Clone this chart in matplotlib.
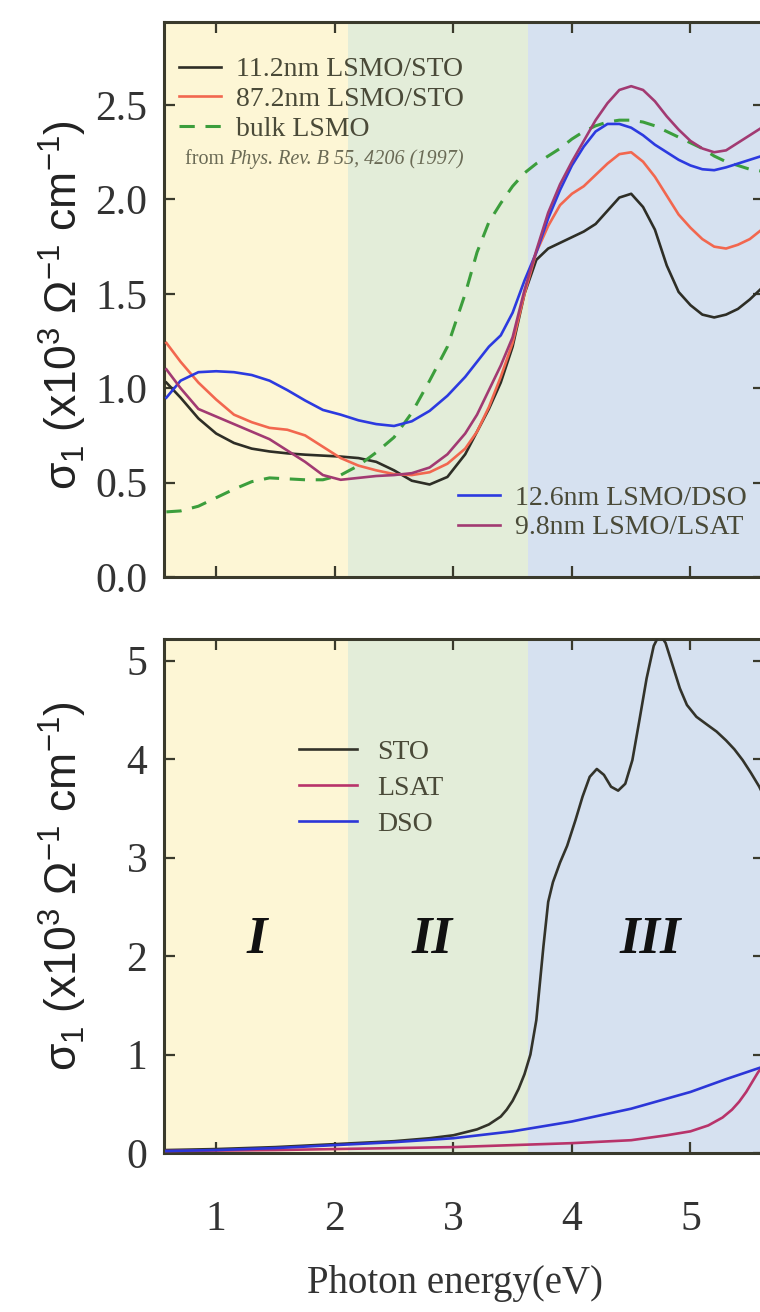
import matplotlib
matplotlib.use('Agg')
import matplotlib.pyplot as plt
from matplotlib.ticker import FixedLocator, FormatStrFormatter, NullFormatter

plt.rcParams['font.family'] = ['Liberation Serif', 'DejaVu Serif']
plt.rcParams['mathtext.fontset'] = 'custom'
plt.rcParams['mathtext.rm'] = 'Liberation Sans'
plt.rcParams['mathtext.it'] = 'Liberation Sans:italic'
plt.rcParams['mathtext.bf'] = 'Liberation Sans:bold'

# ---------------- data: top panel ----------------
x_top = [0.58, 0.7, 0.85, 1.0, 1.15, 1.3, 1.45, 1.6, 1.75, 1.9, 2.05, 2.2, 2.35, 2.5,
         2.65, 2.8, 2.95, 3.1, 3.2, 3.3, 3.4, 3.5, 3.6, 3.7, 3.8, 3.9, 4.0, 4.1, 4.2,
         4.3, 4.4, 4.5, 4.6, 4.7, 4.8, 4.9, 5.0, 5.1, 5.2, 5.3, 5.4, 5.5, 5.6]

sto_11nm = [1.03, 0.95, 0.84, 0.76, 0.71, 0.68, 0.665, 0.655, 0.648, 0.643, 0.638, 0.63,
            0.61, 0.565, 0.51, 0.49, 0.53, 0.65, 0.77, 0.89, 1.03, 1.22, 1.5, 1.68, 1.74,
            1.77, 1.80, 1.83, 1.87, 1.94, 2.01, 2.03, 1.96, 1.84, 1.65, 1.51, 1.44, 1.39,
            1.375, 1.39, 1.42, 1.47, 1.53]

sto_87nm = [1.24, 1.14, 1.03, 0.94, 0.86, 0.82, 0.79, 0.78, 0.75, 0.69, 0.63, 0.59, 0.565,
            0.545, 0.54, 0.555, 0.6, 0.68, 0.77, 0.9, 1.06, 1.24, 1.5, 1.72, 1.86, 1.97,
            2.03, 2.07, 2.13, 2.19, 2.24, 2.25, 2.2, 2.12, 2.02, 1.92, 1.85, 1.79, 1.75,
            1.74, 1.76, 1.79, 1.84]

bulk = [0.345, 0.35, 0.375, 0.42, 0.465, 0.505, 0.525, 0.52, 0.515, 0.515, 0.54, 0.59,
        0.66, 0.74, 0.87, 1.04, 1.22, 1.5, 1.72, 1.88, 1.98, 2.07, 2.14, 2.19, 2.23, 2.27,
        2.32, 2.36, 2.39, 2.41, 2.42, 2.42, 2.41, 2.39, 2.36, 2.33, 2.30, 2.27, 2.23, 2.20,
        2.18, 2.16, 2.15]

dso_12nm = [0.95, 1.04, 1.085, 1.09, 1.085, 1.07, 1.04, 0.99, 0.935, 0.885, 0.86, 0.83,
            0.81, 0.80, 0.825, 0.88, 0.96, 1.06, 1.14, 1.22, 1.28, 1.4, 1.57, 1.72, 1.9,
            2.05, 2.18, 2.28, 2.36, 2.40, 2.40, 2.38, 2.34, 2.29, 2.25, 2.21, 2.18, 2.16,
            2.155, 2.17, 2.19, 2.21, 2.23]

lsat_9nm = [1.10, 1.0, 0.89, 0.85, 0.81, 0.77, 0.73, 0.67, 0.61, 0.54, 0.515, 0.525, 0.535,
            0.54, 0.55, 0.58, 0.65, 0.76, 0.86, 0.99, 1.12, 1.27, 1.52, 1.73, 1.93, 2.08,
            2.2, 2.31, 2.42, 2.51, 2.58, 2.6, 2.58, 2.52, 2.44, 2.37, 2.31, 2.27, 2.25, 2.26,
            2.3, 2.34, 2.38]

# ---------------- data: bottom panel (substrates) ----------------
x_sto = [0.58, 1.0, 1.5, 2.0, 2.5, 2.8, 3.0, 3.2, 3.3, 3.4, 3.45, 3.5, 3.55, 3.6, 3.65, 3.7,
         3.76, 3.8, 3.84, 3.9, 3.96, 4.03, 4.09, 4.15, 4.21, 4.27, 4.33, 4.39, 4.45, 4.51,
         4.57, 4.63, 4.69, 4.74, 4.79, 4.85, 4.91, 4.97, 5.05, 5.14, 5.22, 5.30, 5.37, 5.44,
         5.51, 5.58, 5.62]
y_sto = [0.03, 0.04, 0.06, 0.09, 0.12, 0.15, 0.18, 0.24, 0.29, 0.37, 0.44, 0.53, 0.65, 0.8,
         1.0, 1.35, 2.1, 2.55, 2.75, 2.95, 3.12, 3.38, 3.62, 3.82, 3.9, 3.84, 3.72, 3.68,
         3.75, 3.99, 4.4, 4.82, 5.15, 5.27, 5.18, 4.95, 4.72, 4.55, 4.43, 4.35, 4.28, 4.19,
         4.1, 3.99, 3.86, 3.72, 3.62]

x_dso = [0.58, 1.0, 1.5, 2.0, 2.5, 3.0, 3.5, 4.0, 4.5, 5.0, 5.3, 5.62]
y_dso = [0.02, 0.03, 0.05, 0.08, 0.11, 0.15, 0.22, 0.32, 0.45, 0.62, 0.75, 0.88]

x_lsat = [0.58, 1.5, 2.5, 3.0, 3.5, 4.0, 4.5, 4.8, 5.0, 5.15, 5.27, 5.35, 5.41, 5.47,
          5.52, 5.57, 5.62]
y_lsat = [0.02, 0.03, 0.05, 0.06, 0.08, 0.10, 0.13, 0.18, 0.22, 0.28, 0.36, 0.44, 0.52,
          0.62, 0.72, 0.82, 0.90]

# regions
region_edges = [0.0, 2.11, 3.63, 7.0]
region_colors = ['#fdf6d5', '#e3edd9', '#d6e1f0']
region_labels = ['I', 'II', 'III']
region_label_x = [1.345, 2.82, 4.66]

top_yticks = [0.0, 0.5, 1.0, 1.5, 2.0, 2.5]
bot_yticks = [0, 1, 2, 3, 4, 5]
xticks = [1, 2, 3, 4, 5]

# ---------------- figure ----------------
fig = plt.figure(figsize=(7.6, 13.12), dpi=100)
W, H = 760.0, 1312.0
ax1 = fig.add_axes([164 / W, 1 - 577 / H, 600 / W, 555 / H])
ax2 = fig.add_axes([164 / W, 1 - 1153 / H, 600 / W, 514 / H])

spine_col = '#3a3a2c'
for ax in (ax1, ax2):
    for i, c in enumerate(region_colors):
        ax.axvspan(region_edges[i], region_edges[i + 1], color=c, lw=0, zorder=0)
    ax.set_xlim(0.56, 5.62)
    for s in ax.spines.values():
        s.set_linewidth(2.2)
        s.set_color(spine_col)
    ax.xaxis.set_major_locator(FixedLocator(xticks))
    ax.tick_params(which='major', direction='in', length=8, width=1.6, color=spine_col,
                   top=True, right=True, labelsize=30, pad=12, labelcolor='#333333')

# top panel
c_black = '#2e2e26'
c_red = '#f2674f'
c_green = '#3c9e3c'
c_blue = '#2c3ae0'
c_purple = '#a23a72'

l1, = ax1.plot(x_top, sto_11nm, color=c_black, lw=1.9, label='11.2nm LSMO/STO', zorder=3)
l2, = ax1.plot(x_top, sto_87nm, color=c_red, lw=1.9, label='87.2nm LSMO/STO', zorder=3)
l3, = ax1.plot(x_top, bulk, color=c_green, lw=2.2, ls=(0, (5, 3.5)), label='bulk LSMO', zorder=3)
l4, = ax1.plot(x_top, dso_12nm, color=c_blue, lw=1.9, label='12.6nm LSMO/DSO', zorder=3)
l5, = ax1.plot(x_top, lsat_9nm, color=c_purple, lw=1.9, label='9.8nm LSMO/LSAT', zorder=3)

ax1.set_ylim(0, 2.94)
ax1.yaxis.set_major_locator(FixedLocator(top_yticks))
ax1.yaxis.set_major_formatter(FormatStrFormatter('%.1f'))
ax1.xaxis.set_major_formatter(NullFormatter())

leg_col = '#4a4a38'
leg1 = ax1.legend(handles=[l1, l2, l3], loc='upper left', bbox_to_anchor=(0.025, 0.937),
                  frameon=False, fontsize=20, handlelength=1.5, handletextpad=0.55,
                  labelspacing=0.15, borderpad=0, borderaxespad=0)
for t in leg1.get_texts():
    t.set_color(leg_col)
ax1.add_artist(leg1)
t_from = ax1.text(0.035, 0.753, 'from ', transform=ax1.transAxes, fontsize=14.5,
                  color='#6a6a55', va='center', ha='left')
ax1.annotate('Phys. Rev. B 55, 4206 (1997)', xy=(1, 0.5), xycoords=t_from,
             va='center', ha='left', fontsize=14.5, color='#6a6a55', style='italic')

leg2 = ax1.legend(handles=[l4, l5], loc='upper left', bbox_to_anchor=(0.49, 0.165),
                  frameon=False, fontsize=20, handlelength=1.5, handletextpad=0.55,
                  labelspacing=0.15, borderpad=0, borderaxespad=0)
for t in leg2.get_texts():
    t.set_color(leg_col)

ylab = 'σ$_1$ (x10$^3$ Ω$^{-1}$ cm$^{-1}$)'
ax1.set_ylabel(ylab, fontsize=32, family='Liberation Sans', color='#222222')
ax1.yaxis.set_label_coords(-0.125, 0.49)

# bottom panel
b1, = ax2.plot(x_sto, y_sto, color='#33332a', lw=1.9, label='STO', zorder=3)
b2, = ax2.plot(x_lsat, y_lsat, color='#b8336a', lw=1.9, label='LSAT', zorder=3)
b3, = ax2.plot(x_dso, y_dso, color='#2c36d8', lw=1.9, label='DSO', zorder=3)
ax2.set_ylim(0, 5.22)
ax2.yaxis.set_major_locator(FixedLocator(bot_yticks))
ax2.tick_params(axis='x', pad=34)

leg3 = ax2.legend(handles=[b1, b2, b3], loc='upper left', bbox_to_anchor=(0.225, 0.805),
                  frameon=False, fontsize=20, handlelength=2.1, handletextpad=0.7,
                  labelspacing=0.38, borderpad=0, borderaxespad=0)
for t in leg3.get_texts():
    t.set_color(leg_col)

for lab, xx in zip(region_labels, region_label_x):
    ax2.text(xx, 2.16, lab, fontsize=38, fontweight='bold', style='italic',
             ha='center', va='center', color='#111111', zorder=4)

ax2.set_ylabel(ylab, fontsize=32, family='Liberation Sans', color='#222222')
ax2.yaxis.set_label_coords(-0.125, 0.52)

fig.text(455 / W, 1 - 1283 / H, 'Photon energy(eV)', fontsize=28, ha='center', va='center',
         color='#333333')

fig.savefig('out.png', dpi=100)
